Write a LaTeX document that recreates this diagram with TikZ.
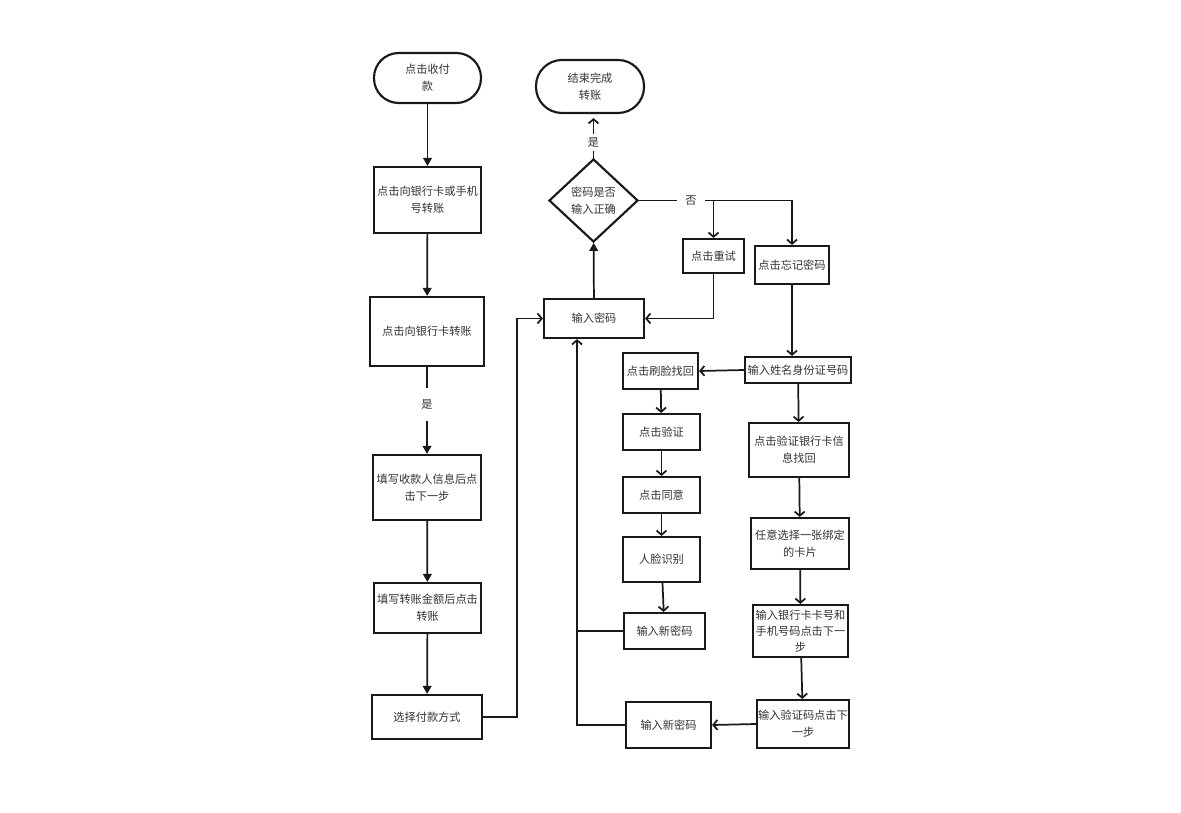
\documentclass[tikz,border=0pt]{standalone}
\usepackage{fontspec}
\newfontfamily\cjk{Noto Sans CJK SC}
\usetikzlibrary{arrows.meta,shapes.geometric}
\begin{document}
\begin{tikzpicture}[x=0.75pt,y=-0.75pt,
  txt/.style={font=\cjk\fontsize{8.4}{13}\selectfont, text=black!80},
  box/.style={txt, draw=black!90, line width=1.6pt, inner sep=0pt, align=center},
  sz/.style 2 args={minimum width=#1*0.75pt, minimum height=#2*0.75pt},
  term/.style={box, rounded corners=#1},
  dia/.style={box, diamond, aspect=1.07},
  conn/.style={line width=1.3pt, black!90},
  farrow/.style={conn, -{Triangle[length=6pt,width=6.5pt]}},
  oarrow/.style={conn, -{Straight Barb[length=3.2pt,width=7.5pt]}},
  lbl/.style={txt, fill=white, inner xsep=3pt, inner ysep=#1},
  lbl/.default=2pt
]
\useasboundingbox (0,0) rectangle (1181,813);
\fill[white] (0,0) rectangle (1181,813);

% left column
\node[term=18.5pt, sz={107}{50}] (start) at (427.5,78) {点击收付\\款};
\node[box, sz={107}{66}] (b1) at (427.5,200) {点击向银行卡或手机\\号转账};
\node[box, sz={114}{69}] (b2) at (427,331.5) {点击向银行卡转账};
\node[box, sz={108}{65}] (b3) at (427,487.5) {填写收款人信息后点\\击下一步};
\node[box, sz={107}{50}] (b4) at (427.5,608) {填写转账金额后点击\\转账};
\node[box, sz={110}{44}] (b5) at (427,717) {选择付款方式};

% middle
\node[box, sz={100}{39}] (pw) at (594,318.5) {输入密码};
\node[dia, sz={89}{83}] (dm) at (593.5,200.5) {密码是否\\输入正确};
\node[term=19.5pt, sz={108}{53}] (end) at (590,86.5) {结束完成\\转账};
\node[box, sz={61}{34}] (retry) at (713.5,256) {点击重试};
\node[box, sz={74}{38}] (forget) at (792,265) {点击忘记密码};

% face branch
\node[box, sz={106}{26}] (id) at (798,370) {输入姓名身份证号码};
\node[box, sz={75}{36}] (face) at (660.5,371) {点击刷脸找回};
\node[box, sz={77}{36}] (verify) at (661.5,432) {点击验证};
\node[box, sz={77}{36}] (agree) at (661.5,495) {点击同意};
\node[box, sz={77}{45}] (recog) at (661.5,559.5) {人脸识别};
\node[box, sz={81}{36}] (newpwa) at (664.5,631) {输入新密码};

% bank branch
\node[box, sz={100}{54}] (bank) at (799,450) {点击验证银行卡信\\息找回};
\node[box, sz={98}{51}] (select) at (800,543.5) {任意选择一张绑定\\的卡片};
\node[box, sz={95}{52}, font=\cjk\fontsize{8.4}{12}\selectfont] (cardnum) at (800.5,631) {输入银行卡卡号和\\手机号码点击下一\\步};
\node[box, sz={92}{48}] (code) at (803,724) {输入验证码点击下\\一步};
\node[box, sz={85}{46}] (newpwb) at (668.5,725) {输入新密码};

\coordinate (c1) at (517,0);
\coordinate (c2) at (577,0);

% left column connectors
\draw[farrow] (start) -- (b1);
\draw[farrow] (b1) -- (b2);
\draw[farrow] (b2) -- node[lbl=8.5pt, pos=0.43] {是} (b3);
\draw[farrow] (b3) -- (b4);
\draw[farrow] (b4) -- (b5);
\draw[oarrow] (b5.east) -- (b5.east -| c1) -- (c1 |- pw.west) -- (pw.west);

% decision
\draw[farrow] (pw) -- (dm);
\draw[oarrow, shorten >=3pt] (dm.north) -- node[lbl=2.5pt, pos=0.35] {是} (dm.north |- end.south);
\draw[oarrow] (dm.east) -- node[lbl=2pt, inner xsep=6pt, pos=0.34] {否} (dm.east -| forget.north) -- (forget.north);
\draw[oarrow] (retry.north |- dm.east) -- (retry.north);
\draw[oarrow] (retry.south) -- (retry.south |- pw.east) -- (pw.east);

% forget branch
\draw[oarrow] (forget.south) -- (forget.south |- id.north);
\draw[oarrow] (id.west) -- (face.east);
\draw[oarrow] (face) -- (verify);
\draw[oarrow] (verify) -- (agree);
\draw[oarrow] (agree) -- (recog);
\draw[oarrow] (recog) -- (newpwa);
\draw[conn] (newpwa.west) -- (newpwa.west -| c2);

\draw[oarrow] (id) -- (bank);
\draw[oarrow] (bank) -- (select);
\draw[oarrow] (select) -- (cardnum);
\draw[oarrow] (cardnum) -- (code);
\draw[oarrow] (code.west) -- (newpwb.east);
\draw[oarrow] (newpwb.west) -- (newpwb.west -| c2) -- (c2 |- pw.south);
\end{tikzpicture}
\end{document}
